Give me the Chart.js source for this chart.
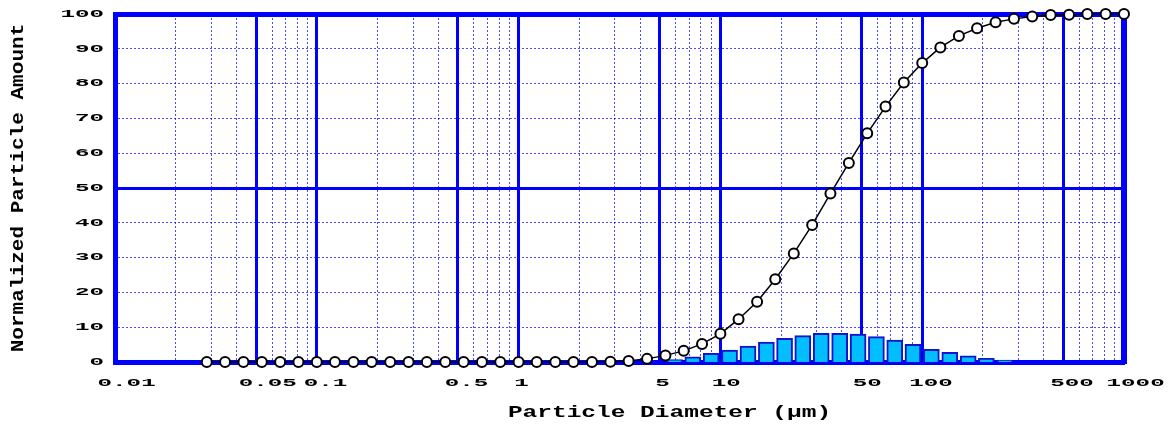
<!DOCTYPE html>
<html>
<head>
  <title>Particle Size Distribution</title>
  <script src="https://cdn.jsdelivr.net/npm/chart.js"></script>
  <style>
    body { margin: 0; background: #fff; }
    canvas { display: block; }
  </style>
</head>
<body>
  <canvas id="psdChart" width="1176" height="427"></canvas>

  <script>
    // cumulative curve: diameter (µm) -> normalized amount (%)
    const diameters = [0.0285, 0.0351, 0.0433, 0.0534, 0.0658, 0.0811, 0.1, 0.123, 0.152, 0.187,
      0.231, 0.285, 0.351, 0.433, 0.534, 0.658, 0.811, 1.0, 1.23, 1.52,
      1.87, 2.31, 2.85, 3.51, 4.33, 5.34, 6.58, 8.11, 10, 12.3,
      15.2, 18.7, 23.1, 28.5, 35.1, 43.3, 53.4, 65.8, 81.1, 100,
      123, 152, 187, 231, 285, 351, 433, 534, 658, 811, 1000];
    const cumulative = [0, 0, 0, 0, 0, 0, 0, 0, 0, 0,
      0, 0, 0, 0, 0, 0, 0, 0, 0, 0,
      0, 0, 0.1, 0.3, 0.9, 1.9, 3.2, 5.2, 8.1, 12.3,
      17.3, 23.8, 31.2, 39.4, 48.4, 57.2, 65.7, 73.4, 80.3, 85.9,
      90.4, 93.7, 95.9, 97.6, 98.6, 99.3, 99.7, 99.8, 100, 100, 100];

    // histogram bins (centre diameter) -> amount (%)
    const binCenters = [5.93, 7.30, 9.00, 11.1, 13.7, 16.9, 20.8, 25.6, 31.6, 39.0,
      48.1, 59.3, 73.1, 90.0, 111, 137, 169, 208, 257];
    const binAmounts = [0.7, 1.45, 2.5, 3.45, 4.6, 5.75, 6.8, 7.6, 8.25, 8.25,
      8.05, 7.3, 6.3, 5.1, 3.65, 2.8, 1.8, 1.05, 0.55];

    const xTickValues = [0.01, 0.05, 0.1, 0.5, 1, 5, 10, 50, 100, 500, 1000];
    const xTickLabels = ["0.01", "0.05", "0.1", "0.5", "1", "5", "10", "50", "100", "500", "1000"];
    const xMajorLines = [0.05, 0.1, 0.5, 1, 5, 10, 50, 100, 500];
    const yTickValues = [0, 10, 20, 30, 40, 50, 60, 70, 80, 90, 100];
    const yTickLabels = ["0", "10", "20", "30", "40", "50", "60", "70", "80", "90", "100"];
    const yMajorLines = [50];
    const yMinorLines = [10, 20, 30, 40, 60, 70, 80, 90];
    const xTitle = "Particle Diameter (μm)";
    const yTitle = "Normalized Particle Amount";

    // thin dotted lines at 2..9 x each decade (5 x is a major line)
    const xMinorLines = [];
    [0.01, 0.1, 1, 10, 100].forEach(d => {
      [2, 3, 4, 6, 7, 8, 9].forEach(m => xMinorLines.push(Number((m * d).toPrecision(3))));
    });

    const BLUE = "#0000FF";

    // the original uses wide, horizontally stretched mono lettering
    const stretchedText = {
      id: "stretchedText",
      afterDraw(chart) {
        const { ctx, chartArea: area, scales } = chart;
        const put = (text, x, y, sx, align, baseline, angle) => {
          ctx.save();
          ctx.translate(x, y);
          if (angle) ctx.rotate(angle);
          ctx.scale(sx, 1);
          ctx.textAlign = align;
          ctx.textBaseline = baseline;
          ctx.fillText(text, 0, 0);
          ctx.restore();
        };
        ctx.save();
        ctx.fillStyle = "#000";
        ctx.font = 'bold 11px "Liberation Mono"';
        xTickValues.forEach((v, i) => {
          const w = ctx.measureText(xTickLabels[i]).width * 2.2;
          put(xTickLabels[i], scales.x.getPixelForValue(v) - 0.3 * w, area.bottom + 21, 2.2, "left", "middle");
        });
        yTickValues.forEach((v, i) => {
          put(yTickLabels[i], area.left - 11, scales.y.getPixelForValue(v), 2.2, "right", "middle");
        });
        ctx.font = 'bold 16px "Liberation Mono"';
        put(xTitle, (area.left + area.right) / 2 + 50, area.bottom + 55, 1.53, "center", "alphabetic");
        ctx.font = 'bold 18px "Liberation Mono"';
        put(yTitle, 18, (area.top + area.bottom) / 2, 1.17, "center", "middle", -Math.PI / 2);
        ctx.restore();
      }
    };

    new Chart(document.getElementById("psdChart"), {
      type: "line",
      data: {
        datasets: [
          {
            type: "line",
            data: diameters.map((d, i) => ({ x: d, y: cumulative[i] })),
            borderColor: "#000",
            borderWidth: 1.5,
            pointRadius: 5,
            pointBorderWidth: 2,
            pointBackgroundColor: "#fff",
            pointBorderColor: "#000",
            tension: 0,
            clip: false,
            order: 0
          },
          {
            type: "bar",
            data: binCenters.map((d, i) => ({ x: d, y: binAmounts[i] })),
            backgroundColor: "#00BEFF",
            borderColor: "#1414C8",
            borderWidth: 2,
            barThickness: 16,
            order: 1
          }
        ]
      },
      options: {
        responsive: false,
        animation: false,
        events: [],
        layout: { padding: { left: 115, right: 52, top: 14, bottom: 65 } },
        plugins: { legend: { display: false }, tooltip: { enabled: false } },
        scales: {
          x: {
            type: "logarithmic", position: "bottom", min: 0.01, max: 1000, offset: false,
            afterBuildTicks: s => { s.ticks = xMinorLines.map(v => ({ value: v })); },
            ticks: { display: false },
            grid: { color: "rgba(0,0,255,0.7)", lineWidth: 1, drawTicks: false, offset: false },
            border: { color: BLUE, width: 5, dash: [2, 2] }
          },
          x2: {
            type: "logarithmic", position: "top", min: 0.01, max: 1000, offset: false,
            afterBuildTicks: s => { s.ticks = xMajorLines.map(v => ({ value: v })); },
            ticks: { display: false },
            grid: { color: BLUE, lineWidth: 3, drawTicks: false, offset: false },
            border: { color: BLUE, width: 5 }
          },
          y: {
            type: "linear", position: "left", min: 0, max: 100,
            afterBuildTicks: s => { s.ticks = yMinorLines.map(v => ({ value: v })); },
            ticks: { display: false },
            grid: { color: "rgba(0,0,255,0.7)", lineWidth: 1, drawTicks: false },
            border: { color: BLUE, width: 5, dash: [2, 2] }
          },
          y2: {
            type: "linear", position: "right", min: 0, max: 100,
            afterBuildTicks: s => { s.ticks = yMajorLines.map(v => ({ value: v })); },
            ticks: { display: false },
            grid: { color: BLUE, lineWidth: 3, drawTicks: false },
            border: { color: BLUE, width: 6 }
          }
        }
      },
      plugins: [stretchedText]
    });
  </script>
</body>
</html>
